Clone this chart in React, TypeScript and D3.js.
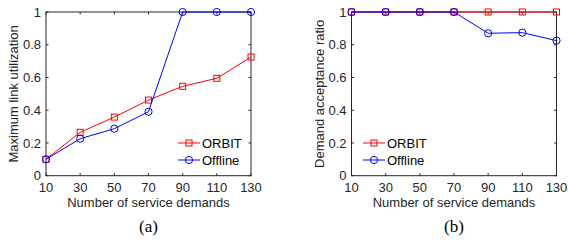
import React, { useEffect, useRef } from "react";
import * as d3 from "d3";

// two line charts, matlab style

const demands = [10, 30, 50, 70, 90, 110, 130];
const yTicks = [0, 0.2, 0.4, 0.6, 0.8, 1];

const utilOrbit = [0.1, 0.265, 0.358, 0.462, 0.546, 0.595, 0.725];
const utilOffline = [0.1, 0.226, 0.287, 0.391, 1, 1, 1];

const acceptOrbit = [1, 1, 1, 1, 1, 1, 1];
const acceptOffline = [1, 1, 1, 1, 0.87, 0.874, 0.825];

const seriesNames = ["ORBIT", "Offline"];
const xTitle = "Number of service demands";

const AXIS = "#262626";
const FONT = "'Liberation Sans', Arial, sans-serif";

function Panel(props: any) {
  const ref = useRef<SVGGElement>(null);

  useEffect(() => {
    const g = d3.select(ref.current);
    g.selectAll("*").remove();
    const left = props.left, top = 12, w = 205, h = 163.7;

    const x = d3.scaleLinear().domain([10, 130]).range([left, left + w]);
    const y = d3.scaleLinear().domain([0, 1]).range([top + h, top]);

    // plot box
    g.append("rect")
      .attr("x", left).attr("y", top).attr("width", w).attr("height", h)
      .attr("fill", "white").attr("stroke", AXIS).attr("stroke-width", 1);

    // ticks, inside, all four sides
    const tl = 2.5;
    demands.forEach(d => {
      g.append("line").attr("x1", x(d)).attr("x2", x(d)).attr("y1", top + h).attr("y2", top + h - tl).attr("stroke", AXIS);
      g.append("line").attr("x1", x(d)).attr("x2", x(d)).attr("y1", top).attr("y2", top + tl).attr("stroke", AXIS);
      g.append("text").attr("x", x(d)).attr("y", top + h + 16)
        .attr("text-anchor", "middle").attr("font-family", FONT).attr("font-size", 13)
        .attr("fill", AXIS).text(d);
    });
    yTicks.forEach(v => {
      g.append("line").attr("x1", left).attr("x2", left + tl).attr("y1", y(v)).attr("y2", y(v)).attr("stroke", AXIS);
      g.append("line").attr("x1", left + w).attr("x2", left + w - tl).attr("y1", y(v)).attr("y2", y(v)).attr("stroke", AXIS);
      g.append("text").attr("x", left - 5).attr("y", y(v)).attr("dy", "0.35em")
        .attr("text-anchor", "end").attr("font-family", FONT).attr("font-size", 13)
        .attr("fill", AXIS).text(v);
    });

    // axis titles
    g.append("text").attr("x", left + w / 2).attr("y", top + h + 31.5)
      .attr("text-anchor", "middle").attr("font-family", FONT).attr("font-size", 13)
      .attr("fill", AXIS).text(xTitle);
    g.append("text")
      .attr("transform", `translate(${left - 28},${top + h / 2}) rotate(-90)`)
      .attr("text-anchor", "middle").attr("font-family", FONT).attr("font-size", 13)
      .attr("fill", AXIS).text(props.yTitle);

    // panel caption
    g.append("text").attr("x", left + w / 2).attr("y", 232)
      .attr("text-anchor", "middle").attr("font-family", "'Liberation Serif', 'Times New Roman', serif")
      .attr("font-size", 17).attr("fill", "black").text(props.caption);

    const line = d3.line<number>().x((d, i) => x(demands[i])).y(d => y(d));
    const colors = ["#ff0000", "#0000ff"];
    [props.a, props.b].forEach((vals: number[], k: number) => {
      g.append("path").datum(vals).attr("d", line).attr("fill", "none")
        .attr("stroke", colors[k]).attr("stroke-width", 1);
      vals.forEach((v, i) => {
        if (k === 0) {
          g.append("rect").attr("x", x(demands[i]) - 3).attr("y", y(v) - 3)
            .attr("width", 6).attr("height", 6).attr("fill", "none").attr("stroke", colors[k]);
        } else {
          g.append("circle").attr("cx", x(demands[i])).attr("cy", y(v)).attr("r", 3.6)
            .attr("fill", "none").attr("stroke", colors[k]);
        }
      });
    });

    // legend
    const lx = props.legendX;
    [143, 160].forEach((ly, k) => {
      g.append("line").attr("x1", lx).attr("x2", lx + 22).attr("y1", ly).attr("y2", ly)
        .attr("stroke", colors[k]);
      if (k === 0) {
        g.append("rect").attr("x", lx + 8).attr("y", ly - 3).attr("width", 6).attr("height", 6)
          .attr("fill", "none").attr("stroke", colors[k]);
      } else {
        g.append("circle").attr("cx", lx + 11).attr("cy", ly).attr("r", 3.6)
          .attr("fill", "none").attr("stroke", colors[k]);
      }
      g.append("text").attr("x", lx + 24).attr("y", ly).attr("dy", "0.35em")
        .attr("font-family", FONT).attr("font-size", 13).attr("fill", "black").text(seriesNames[k]);
    });
  }, []);

  return <g ref={ref}></g>;
}

export default function App() {
  return (
    <svg width={568} height={242} style={{ position: "absolute", left: 0, top: 0, background: "white" }}>
      <Panel left={46} a={utilOrbit} b={utilOffline} yTitle="Maximum link utilization" caption="(a)" legendX={178} />
      <Panel left={351.5} a={acceptOrbit} b={acceptOffline} yTitle="Demand acceptance ratio" caption="(b)" legendX={363} />
    </svg>
  );
}
